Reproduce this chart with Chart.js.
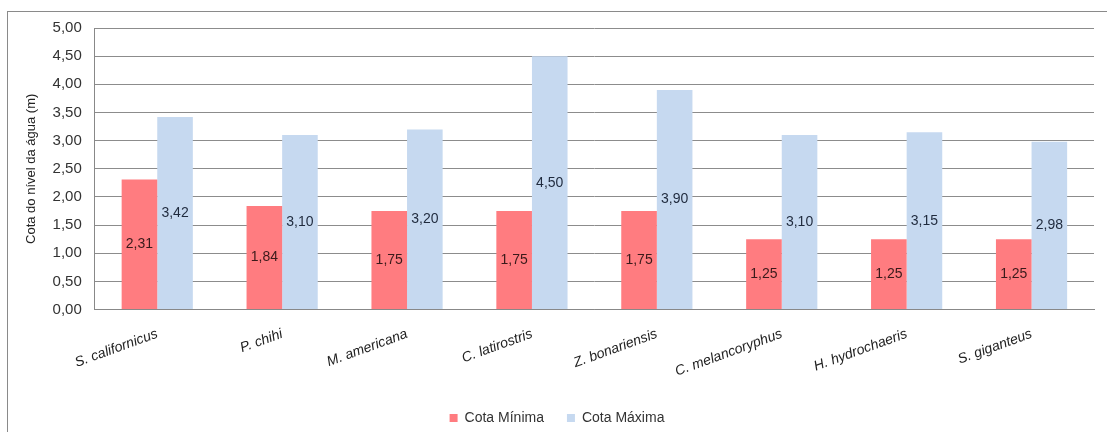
<!DOCTYPE html>
<html>
<head>
<meta charset="utf-8">
<script src="https://cdn.jsdelivr.net/npm/chart.js@4"></script>
<style>
  html, body { margin: 0; padding: 0; background: #fff; }
  #frame {
    position: absolute; left: 7px; top: 11px;
    width: 1110px; height: 430px;
    border: 1px solid #8a8a8a; box-sizing: border-box;
  }
  #wrap { position: absolute; left: 0; top: 0; width: 1107px; height: 432px; }
</style>
</head>
<body>
<div id="frame"></div>
<div id="wrap"><canvas id="chart"></canvas></div>
<script>
// chart data
const species = ["S. californicus", "P. chihi", "M. americana", "C. latirostris",
                 "Z. bonariensis", "C. melancoryphus", "H. hydrochaeris", "S. giganteus"];
const cotaMinima = [2.31, 1.84, 1.75, 1.75, 1.75, 1.25, 1.25, 1.25];
const cotaMaxima = [3.42, 3.10, 3.20, 4.50, 3.90, 3.10, 3.15, 2.98];
const yTicks = [0, 0.5, 1, 1.5, 2, 2.5, 3, 3.5, 4, 4.5, 5];

const fmt = v => v.toFixed(2).replace(".", ",");
const FONT = "'Liberation Sans', Arial, sans-serif";

// value labels drawn in the middle of each bar
const barLabels = {
  id: "barLabels",
  afterDatasetsDraw(chart) {
    const ctx = chart.ctx;
    ctx.save();
    ctx.font = "14px " + FONT;
    ctx.textAlign = "center";
    ctx.textBaseline = "middle";
    chart.data.datasets.forEach((ds, i) => {
      chart.getDatasetMeta(i).data.forEach((bar, j) => {
        const mid = (bar.y + bar.base) / 2;
        ctx.fillStyle = i === 0 ? "#3a1a1a" : "#1f2a3d";
        ctx.fillText(fmt(ds.data[j]), bar.x, mid);
      });
    });
    ctx.restore();
  }
};

new Chart(document.getElementById("chart"), {
  type: "bar",
  data: {
    labels: species,
    datasets: [
      { label: "Cota Mínima", data: cotaMinima, backgroundColor: "#ff7c80" },
      { label: "Cota Máxima", data: cotaMaxima, backgroundColor: "#c6d9f0" }
    ]
  },
  options: {
    responsive: true,
    maintainAspectRatio: false,
    animation: false,
    layout: { padding: { left: 20, right: 13, top: 28, bottom: -3 } },
    datasets: { bar: { categoryPercentage: 0.57, barPercentage: 1.0 } },
    plugins: {
      legend: {
        position: "bottom",
        labels: {
          font: { size: 14, family: FONT },
          color: "#333",
          usePointStyle: true,
          pointStyle: "rect",
          boxWidth: 8,
          boxHeight: 8,
          padding: 23
        }
      },
      tooltip: { enabled: false }
    },
    scales: {
      x: {
        grid: { display: false },
        border: { color: "#888" },
        ticks: {
          font: { size: 14, family: FONT, style: "italic" },
          color: "#222",
          minRotation: 20,
          maxRotation: 20,
          padding: 8
        }
      },
      y: {
        min: 0,
        max: 5,
        afterBuildTicks: axis => { axis.ticks = yTicks.map(v => ({ value: v })); },
        grid: { color: "#8c8c8c", drawTicks: false },
        border: { color: "#888" },
        ticks: {
          font: { size: 15, family: FONT },
          color: "#333",
          padding: 13,
          callback: v => fmt(v)
        },
        title: {
          display: true,
          text: "Cota do nível da água (m)",
          font: { size: 13, family: FONT },
          color: "#222",
          padding: { top: 4, bottom: 0 }
        }
      }
    }
  },
  plugins: [barLabels]
});
</script>
</body>
</html>
